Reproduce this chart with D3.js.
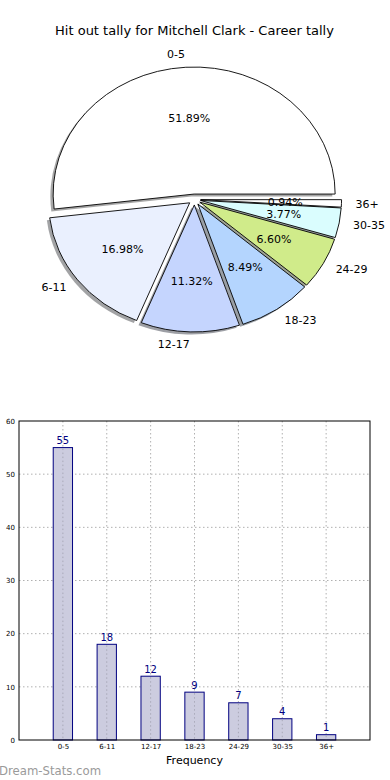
<!DOCTYPE html>
<html><head><meta charset="utf-8">
<script src="https://cdn.jsdelivr.net/npm/d3@7"></script>
<style>body{margin:0;background:#fff}svg{display:block}text{font-family:"DejaVu Sans",sans-serif}</style>
</head><body>
<svg id="c" width="390" height="780"></svg>
<script>
const title = "Hit out tally for Mitchell Clark - Career tally";
const categories = ["0-5","6-11","12-17","18-23","24-29","30-35","36+"];
const values = [55,18,12,9,7,4,1];
const sliceColors = ["#ffffff","#eaf0fe","#c5d5fe","#b4d5fe","#d0eb8a","#dafdfe","#ffffff"];
const yTicks = [0,10,20,30,40,50,60];
const xLabel = "Frequency";
const watermark = "Dream-Stats.com";

const svg = d3.select("#c");
const total = d3.sum(values);

svg.append("text").attr("x",194.5).attr("y",35).attr("text-anchor","middle")
  .attr("font-size",13).attr("fill","#000").text(title);

// ---- Pie ----
const cx = 194.5, cy = 199.5, rx = 141, ry = 127, ex = 0.043;
const pie = d3.pie().sort(null).startAngle(Math.PI/2).endAngle(Math.PI/2 - 2*Math.PI);
const arcs = pie(values);
const arc = d3.arc().innerRadius(0).outerRadius(1);
const gPie = svg.append("g");
function mid(d){ return Math.PI/2 - (d.startAngle + d.endAngle)/2; } // math angle
function off(d){ const t = mid(d); return [ex*rx*Math.cos(t), -ex*ry*Math.sin(t)]; }
// shadows first
arcs.forEach((d,i)=>{
  const o = off(d);
  const c = d3.rgb(sliceColors[i]);
  gPie.append("path").attr("d",arc(d))
    .attr("transform",`translate(${cx+o[0]-2.8},${cy+o[1]+2.5}) scale(${rx},${ry})`)
    .attr("fill", d3.rgb(c.r*0.3,c.g*0.3,c.b*0.3)).attr("fill-opacity",0.5).attr("stroke","none");
});
arcs.forEach((d,i)=>{
  const o = off(d);
  gPie.append("path").attr("d",arc(d))
    .attr("transform",`translate(${cx+o[0]},${cy+o[1]}) scale(${rx},${ry})`)
    .attr("fill",sliceColors[i]).attr("stroke","#000").attr("stroke-width",0.9)
    .attr("vector-effect","non-scaling-stroke").attr("stroke-linejoin","round");
});
arcs.forEach((d,i)=>{
  const o = off(d), t = mid(d);
  const x0 = cx+o[0], y0 = cy+o[1];
  const lx = x0 + 1.1*rx*Math.cos(t), ly = y0 - 1.1*ry*Math.sin(t);
  gPie.append("text").attr("x",lx).attr("y",ly).attr("dy","0.35em")
    .attr("text-anchor", Math.cos(t) > 0 ? "start" : "end")
    .attr("font-size",11).text(categories[i]);
  const px = x0 + 0.6*rx*Math.cos(t), py = y0 - 0.6*ry*Math.sin(t);
  gPie.append("text").attr("x",px).attr("y",py).attr("dy","0.35em").attr("text-anchor","middle")
    .attr("font-size",11).text((values[i]/total*100).toFixed(2)+"%");
});

// ---- Bar chart ----
const L = 19, R = 370, T = 421, B = 740;
const x = d3.scaleLinear().domain([-1, categories.length]).range([L, R]);
const y = d3.scaleLinear().domain([0, 60]).range([B, T]);
const gBar = svg.append("g");
// grid
gBar.selectAll("line.gy").data(yTicks.slice(1,-1)).join("line")
  .attr("x1",L).attr("x2",R).attr("y1",d=>y(d)).attr("y2",d=>y(d))
  .attr("stroke","#b0b0b0").attr("stroke-dasharray","1.5,2.5").attr("stroke-width",1);
gBar.selectAll("line.gx").data(categories).join("line")
  .attr("x1",(d,i)=>x(i)).attr("x2",(d,i)=>x(i)).attr("y1",T).attr("y2",B)
  .attr("stroke","#b0b0b0").attr("stroke-dasharray","1.5,2.5").attr("stroke-width",1);
const bw = (x(0.44)-x(0));
gBar.selectAll("rect.bar").data(values).join("rect")
  .attr("x",(d,i)=>x(i)-bw/2).attr("y",d=>y(d)).attr("width",bw).attr("height",d=>B-y(d))
  .attr("fill","#ccccdf").attr("stroke","#000080").attr("stroke-width",1);
// redraw vertical grid over bars (matplotlib grid on top)
gBar.selectAll("line.gx2").data(values).join("line")
  .attr("x1",(d,i)=>x(i)).attr("x2",(d,i)=>x(i)).attr("y1",d=>y(d)+1).attr("y2",B)
  .attr("stroke","#a8a8b8").attr("stroke-dasharray","1.5,2.5").attr("stroke-width",1);
gBar.selectAll("text.val").data(values).join("text")
  .attr("x",(d,i)=>x(i)).attr("y",d=>y(d)-3.5).attr("text-anchor","middle")
  .attr("font-size",10).attr("fill","#000080").text(d=>d);
// frame
gBar.append("rect").attr("x",L).attr("y",T).attr("width",R-L).attr("height",B-T)
  .attr("fill","none").attr("stroke","#000").attr("stroke-width",1);
// axes labels
const yAxis = d3.axisLeft(y).tickValues(yTicks).tickSize(0).tickPadding(4);
const ga = svg.append("g").attr("transform",`translate(${L},0)`).call(yAxis);
ga.select(".domain").remove();
ga.selectAll("text").attr("font-size",7).attr("font-family","DejaVu Sans").attr("fill","#000");
const xAxis = d3.axisBottom(x).tickValues(d3.range(categories.length)).tickFormat(i=>categories[i]).tickSize(0).tickPadding(4);
const gx = svg.append("g").attr("transform",`translate(0,${B})`).call(xAxis);
gx.select(".domain").remove();
gx.selectAll("text").attr("font-size",7).attr("font-family","DejaVu Sans").attr("fill","#000");
svg.append("text").attr("x",(L+R)/2).attr("y",764).attr("text-anchor","middle").attr("font-size",11).text(xLabel);
svg.append("text").attr("x",-1).attr("y",775).attr("font-size",11.7).attr("fill","#9a9a9a").text(watermark);
</script>
</body></html>
